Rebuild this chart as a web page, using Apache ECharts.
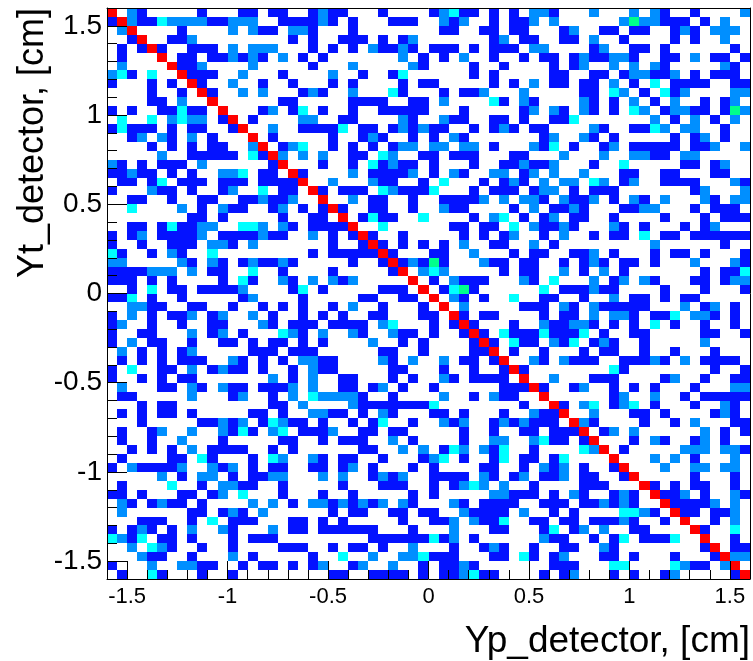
<!DOCTYPE html>
<html>
<head>
<meta charset="utf-8">
<style>html,body{margin:0;padding:0;background:#fff}#c{width:753px;height:661px}</style>
<script src="https://cdn.jsdelivr.net/npm/echarts@6/dist/echarts.min.js"></script>
</head>
<body>
<div id="c"></div>
<script>
// Cell contents per row, top row first, left to right. '.' = empty bin.
const leftRows = [
"9.21.....1...11.11..1","192113222211222..1111",".29....1....2.211.221","..19..112.........1.1",
".1.191..111.2.222...1",".1...9.11.112121.2.1.",".2....9112....2.....1","231.3..9111..2...1...",
"1...1.1.91..2..1..1..","....1..1.91..2.2...12","....11.2..9......11..","1.1..11311.9...12.13.",
".3..3.2322.19.1....22","13111.1.11..19..2..11","..12.21.2.1...9.1....","....1.1.1.11..29.123.",
".....2..11111.3192.2.","21.1.111.2......19...","11211.1.1..223.11.91.",".11.13.111.111.11119.",
"1...211.1..12..3.11.9","..11..1..11..112112..","..3....2.1.211..12.1.","........11.1.....1..1",
"..11.131122..332.21.1","1.12.11112.1111211..2","1..1..111.221.2......","31..1.21..3.........1",
"22.....21.21.121121..","1111222.2.11..3..1...","111.1.1....1.31..21.2","..1.3.11.11112....13.",
"113.1..1.....12....1.","..2211..11..1..1.1.1.","1.2.1.112.12..2.1..1.","12..1..1..11...21.111",
"1..11...2.12.1...321.","1.2.11..1..11.1.11.1.",".2.1.1.12.....111.111",".1.1.1.111..21.1.1.22",
"1.3..11.2.1211.1..1.2","1..1.1.11.......2.1.2",".2...11.21.211.1112.2",".11.....2...12..1.2.3",
"...1.11.........11.2.",".1.1.11.1.....11.1..2","...1.....11212.13211.",".1..12..2..2131.23.11",
".1..1..2...1.....11..","..1.1.1.2.1111..1.1..",".1....11.31...1.32..2","1.211112..212.1.11..1",
".....2.1.22.1.1122...",".1....3..1.2211..1...","11.1...11.12.3...1...",".21.1211.1....2.2.1.2",
".2......11.121.2.....","...111..1.3.111...11.","1.121.1.2..21...2.11.","3213.11.1...1.111....",
"..2.321..1..1....111.","...211..1...2.1.....1","1...2..2211..1.11.1.1",".1..31...1..1........"
];
const midRows = [
"211...1....12311.1.1.","21.1...111..212..1.11","...1........11..11.11","..111.1.12.......12.1",
".1.1.21121.111.1.111.","1.......2.1.1.2..1..1","...2.....21....1..1..",".2..1..13......1.1...",
".1.1....1.11.....1.1.","1..2...31...1.112...2","...1111..11.2....31.2","1..1..11111...1.....1",
"..11....21..211..11.1","113.11.121211..1.121.",".1..121..1.1.21......",".1.1.1.122.22.22.1...",
"2..11.32..11.111...11","1..1.31211.1...1..112","...2.11112.1.21..22.1",".2...211..1.3...1.121",
"1.111.321113...1.111.","9..2.11..1..11112.2.2","191..11..1..211....1.","1.9.1311..3....1.23.1",
"1119..3......11.11.3.",".1.191..1.....1.1.12.",".1..191.1.1.1.2..11..",".1111191...11..2...1.",
"...1..1912141...211.1",".1.....19.232.....1.1",".212.....9.1.2111...2","1.....111.9.1341.....",
"....11..11.9.21.1..3.",".1.2..1...1.9.2.....1","1.1..11...11.91.11...",".1111.23...1.191...1.",
"2..21..211.1..191.311","1....2..1.1....191.31","......11..1....119.1.","11....21.2..2.11.19..",
"11.....11...1..1..191","..11...1.1..21.1111.9","..11.12.1..1......111","22221..1....2..1.211.",
"...211111113........1","211.1.21...11.1...1..","1..1.13..1..212..1212","12..11.11.....1..1..1",
"1.111..2.1....1..22..","....11..2.2.132.213..","1.11..1...123.1..13.1","1.12.1...1.1....11..1",
"2.2..1212..1111.21.12","..1...111..1.1232.2..","1..1.....1.1.....2211","2121212.21...21.1111.",
".1.11..11.11..21111.2","1.1.....1..112.2113..","111111...1...2...11..",".....111111312.1.....",
".1.11.1..2...1..121..","..3..2..223111...11.3","2..12..2..1.1121.....",".11..1111.1.112311..."
];
const rightRows = [
"221...2...2.21..1....2","2.2......2422111.1.2..","...12..11.11..121.222.","1..11.2..1....1.1..2..",
"22....12..11.1......1.",".11.1211221..11.2.11.1","..1.12..2.2.21.....21.","..11..11.122112.1.111.",
"2.11.11.2.1.3.1111..11",".....11.32.1.312....22","1....21.1.2.1.2..1.12.","2.21.21.1.32.12211.142",
"..113.......2.1.2.1.2.","11....21..1132.22..1..",".12..21.1.....1.12.1..","213.1..12.11111.112..2",
"...2...2..2211.22.....","112...1..3.....11.12..","2.2..2...11..11...11..",".2.22.32.12..1111...21",
"122.1.111.......12...2","21.2112.1.21.2...21.22","2.1121...1122...1.111.",".12.11..1....1...1.111",
"21121...21.1...1.12...",".1.2..1.11.3.11.111111","2.1.........2......1..","11..112.1...1.11.1...1",
"1..1.121.11.1...2...21","1..2.1.2.1.......1.113","1.3...2.12.21...11.122",".3.111211....1...1...1",
".11..1..2.11.1.11.....","11.21.211111...2.12.1.",".1.11.2.221.113.221.1.",".211221.1.1.3.1..1..1.",
"131113.1..11.....11..1","1.213.121..1.....2....",".1...1.11..1..1...1...","21.2111..11121.2.1111.",
"........31........1..1","..2...111....12..1..11","91..12..1.1.1...1...22",".9......12..2..1.11111",
"..91.23.123.1...1..21.","2119..2...11.1....121.","111.921....1..1.2...11","1.1119.12.2......2.1.1",
"2311.19...1.21..12.1..","1....329.1.....222.221","1.13....9...2.2.1...2.",".212.1..19...2..22.22.",
".112.11..19.....1...1.","1....111...91.1.11..1.","1.1.21..121.9112.1..21",".111.112121..911112.2.",
"..1.1....3321.911.112.","11.11.11121..1.9..1.2.",".13.12.2..11....91..3.",".211..1.13.1113..9..1.",
"1..11..21........19.11","1.12...11.1...1...1922","..111...33....3211.29.",".1.12...1.1..12.....19"
];
const xTickLabels = [-1.5,-1,-0.5,0,0.5,1,1.5];
const yTickLabels = [-1.5,-1,-0.5,0,0.5,1,1.5];
const palette = {1:'#0412ff',2:'#008fff',3:'#00ffff',4:'#00ff8c',9:'#ff0000'};
const binWidth = 0.05, axisMin = -1.6, axisMax = 1.6;

const cells = [];
leftRows.forEach((l,j)=>{
  const row = l + midRows[j] + rightRows[j];
  for (let i=0;i<row.length;i++){
    if (row[i] !== '.') cells.push([axisMin+i*binWidth, axisMax-(j+1)*binWidth, +row[i]]);
  }
});

const chart = echarts.init(document.getElementById('c'), null, {renderer:'canvas'});
const lab = {color:'#000',fontFamily:'"Liberation Sans",Arial,sans-serif'};
const noAxis = {show:true,z:10,axisLine:{show:false,onZero:false},axisTick:{show:false},axisLabel:{show:false},splitLine:{show:false}};
const base = {type:'value',min:axisMin,max:axisMax,z:10};
const line = {show:true,onZero:false,lineStyle:{color:'#000',width:1}};
chart.setOption({
  animation:false,
  backgroundColor:'#fff',
  grid:{left:107,right:3,top:8,bottom:82,containLabel:false},
  xAxis:[
    Object.assign({},base,{position:'bottom',
      name:'Yp_detector, [cm]',nameLocation:'end',nameGap:0,
      nameTextStyle:Object.assign({},lab,{fontSize:37,align:'right',verticalAlign:'top',padding:[44,0,0,0]}),
      axisLine:line,splitLine:{show:false},
      axisTick:{show:true,inside:true,length:18,lineStyle:{color:'#000',width:1},customValues:xTickLabels},
      axisLabel:Object.assign({},lab,{show:true,fontSize:22,margin:7,customValues:xTickLabels,formatter:v=>String(v)})}),
    Object.assign({},base,noAxis,{position:'bottom',interval:0.1,
      axisTick:{show:true,inside:true,length:9,lineStyle:{color:'#000',width:1}}}),
    Object.assign({},base,noAxis,{position:'top',axisLine:line})
  ],
  yAxis:[
    Object.assign({},base,{position:'left',
      name:'Yt_detector, [cm]',nameLocation:'end',nameGap:0,nameRotate:90,
      nameTextStyle:Object.assign({},lab,{fontSize:36,align:'right',verticalAlign:'bottom',padding:[0,0,56,0]}),
      axisLine:line,splitLine:{show:false},
      axisTick:{show:true,inside:true,length:20,lineStyle:{color:'#000',width:1},customValues:yTickLabels},
      axisLabel:Object.assign({},lab,{show:true,fontSize:28,margin:5,padding:[4,0,0,0],customValues:yTickLabels,formatter:v=>String(v)})}),
    Object.assign({},base,noAxis,{position:'left',interval:0.1,
      axisTick:{show:true,inside:true,length:10,lineStyle:{color:'#000',width:1}}}),
    Object.assign({},base,noAxis,{position:'right',axisLine:line})
  ],
  series:[{
    type:'custom',coordinateSystem:'cartesian2d',xAxisIndex:0,yAxisIndex:0,
    data:cells,clip:true,z:1,
    encode:{x:0,y:1},
    renderItem:function(params,api){
      const a = api.coord([api.value(0),api.value(1)+binWidth]);
      const b = api.coord([api.value(0)+binWidth,api.value(1)]);
      const x0=Math.round(a[0]),y0=Math.round(a[1]),x1=Math.round(b[0]),y1=Math.round(b[1]);
      return {type:'rect',shape:{x:x0,y:y0,width:x1-x0,height:y1-y0},style:{fill:palette[api.value(2)]}};
    }
  }]
});
</script>
</body>
</html>
